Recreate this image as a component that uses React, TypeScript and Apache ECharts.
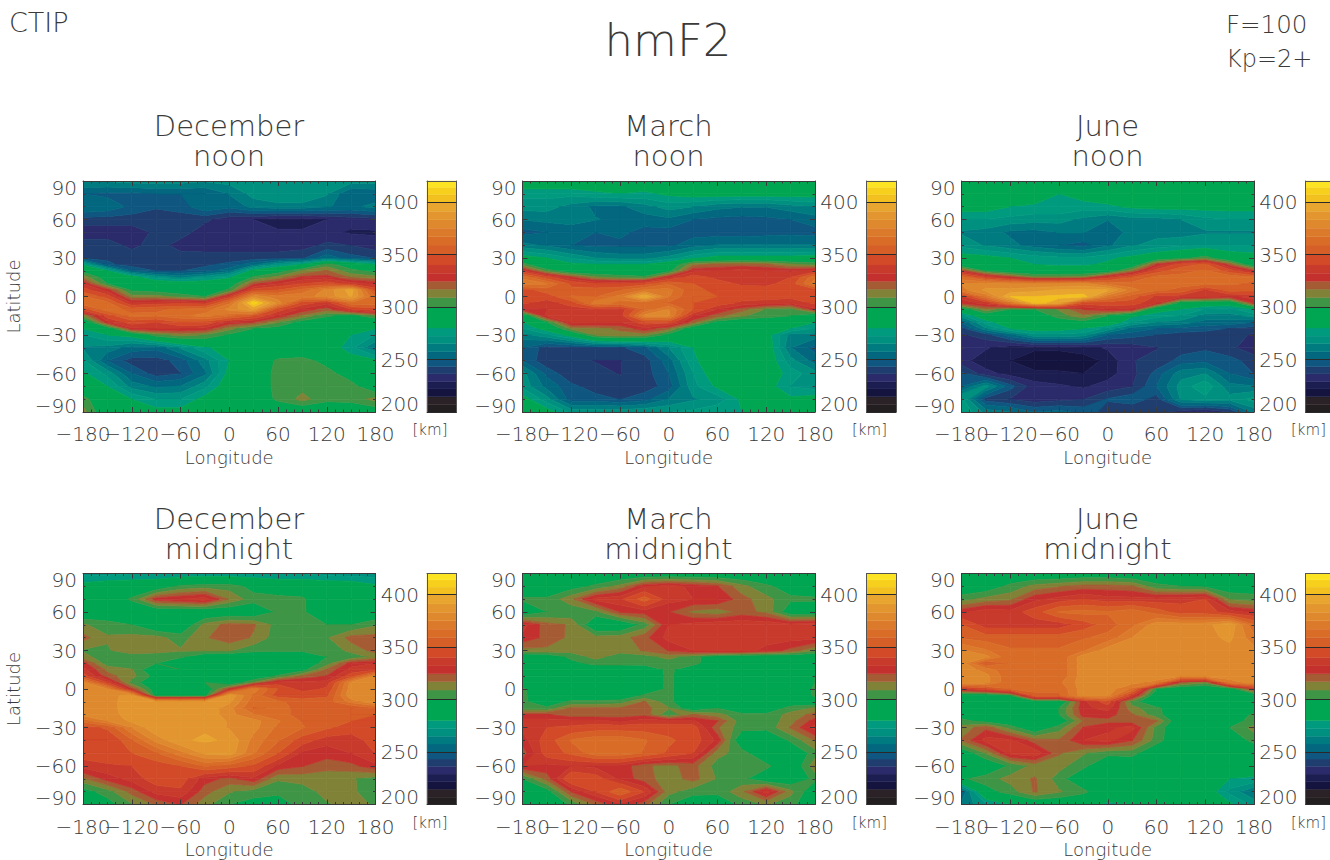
import React, { useEffect, useRef } from "react";
import * as echarts from "echarts";

const longitudes = [-180, -150, -120, -90, -60, -30, 0, 30, 60, 90, 120, 150, 180];
const latitudes = [90, 80, 70, 60, 50, 40, 30, 25, 20, 15, 10, 5, 0, -5, -10, -15, -20, -25, -30, -40, -50, -60, -70, -80, -90];
const colorbarTicks = [200, 250, 300, 350, 400];

const bandLevels = [200, 207, 214.6, 222, 229, 236.3, 243.3, 250, 257.6, 265, 272.3, 280, 300, 309, 317, 324.5, 332, 340, 350, 359, 367, 375, 383, 391, 400, 407, 414, 420];
const bandColors = ["#231f20", "#2a2226", "#14143f", "#1c1d50", "#2b2b6b", "#1f3d6e", "#0f5680", "#02677f", "#007b80", "#009080", "#009b7f", "#00a651", "#3f9546", "#7f8237", "#a55b34", "#c3302e", "#c83a2c", "#d24a28", "#d55f27", "#d96d28", "#dc7a2b", "#df892e", "#e3962f", "#e8a52f", "#f2c01f", "#f6d01c", "#fde423"];

const decemberNoon = [
  [266, 266, 268, 268, 268, 266, 268, 270, 270, 270, 268, 268, 268],
  [250, 248, 248, 250, 250, 250, 258, 268, 272, 272, 266, 250, 252],
  [258, 255, 248, 244, 246, 256, 252, 260, 262, 262, 258, 256, 260],
  [240, 240, 240, 240, 240, 238, 232, 229, 226, 226, 229, 232, 234],
  [232, 232, 232, 238, 240, 232, 232, 232, 230, 230, 231, 228, 228],
  [240, 240, 234, 240, 233, 232, 232, 232, 232, 233, 238, 236, 232],
  [242, 242, 241, 240, 240, 240, 240, 240, 240, 242, 255, 246, 243],
  [278, 245, 240, 240, 240, 242, 245, 255, 270, 280, 304, 292, 278],
  [296, 280, 250, 243, 243, 246, 255, 285, 294, 310, 318, 303, 296],
  [315, 292, 285, 270, 262, 270, 278, 302, 312, 326, 328, 316, 312],
  [332, 300, 292, 290, 288, 288, 292, 322, 332, 340, 345, 336, 330],
  [345, 328, 298, 295, 292, 290, 302, 345, 350, 362, 378, 395, 345],
  [360, 345, 312, 312, 305, 300, 335, 380, 370, 372, 378, 392, 360],
  [365, 362, 332, 335, 338, 335, 365, 412, 380, 345, 335, 365, 365],
  [345, 365, 355, 358, 360, 362, 378, 392, 345, 330, 320, 340, 345],
  [310, 345, 362, 360, 365, 370, 362, 350, 330, 315, 302, 295, 310],
  [285, 330, 345, 340, 350, 348, 330, 325, 310, 295, 290, 288, 284],
  [280, 290, 330, 332, 332, 330, 312, 300, 295, 288, 288, 285, 280],
  [272, 280, 285, 305, 312, 308, 298, 290, 288, 288, 288, 280, 272],
  [264, 262, 254, 252, 266, 278, 286, 288, 288, 288, 288, 274, 258],
  [274, 250, 240, 240, 246, 262, 280, 290, 302, 304, 296, 286, 282],
  [282, 270, 250, 240, 243, 256, 284, 290, 304, 305, 304, 294, 288],
  [288, 280, 262, 256, 258, 270, 288, 290, 304, 306, 305, 304, 290],
  [304, 288, 280, 272, 272, 284, 290, 292, 302, 312, 303, 304, 312],
  [313, 288, 286, 284, 284, 288, 288, 288, 290, 288, 288, 288, 292],
];

const marchNoon = [
  [288, 288, 288, 288, 288, 288, 288, 288, 288, 288, 288, 288, 288],
  [275, 275, 275, 278, 280, 278, 282, 285, 285, 285, 285, 285, 285],
  [268, 268, 262, 256, 256, 262, 268, 265, 260, 258, 258, 262, 265],
  [258, 260, 260, 258, 256, 254, 256, 250, 248, 247, 248, 250, 254],
  [247, 250, 254, 250, 252, 247, 247, 247, 246, 246, 247, 248, 247],
  [260, 256, 250, 248, 248, 248, 248, 254, 258, 258, 258, 258, 258],
  [285, 280, 272, 265, 262, 262, 268, 278, 284, 284, 284, 284, 285],
  [305, 285, 282, 280, 280, 280, 288, 315, 318, 320, 318, 310, 305],
  [335, 305, 290, 288, 288, 288, 296, 330, 332, 335, 332, 330, 335],
  [365, 345, 325, 310, 305, 302, 330, 345, 337, 338, 335, 340, 365],
  [372, 368, 348, 340, 340, 345, 358, 350, 345, 338, 337, 345, 372],
  [345, 355, 352, 355, 358, 368, 370, 352, 348, 345, 345, 345, 345],
  [345, 345, 360, 358, 370, 400, 368, 350, 350, 345, 345, 343, 345],
  [342, 335, 345, 372, 365, 362, 358, 350, 345, 338, 335, 333, 342],
  [330, 332, 335, 338, 335, 360, 375, 350, 332, 320, 308, 305, 330],
  [285, 335, 335, 335, 335, 378, 378, 332, 320, 310, 305, 300, 285],
  [280, 300, 335, 333, 332, 345, 345, 320, 295, 288, 288, 288, 280],
  [272, 285, 312, 315, 318, 330, 318, 290, 288, 288, 288, 280, 272],
  [262, 270, 285, 310, 315, 312, 296, 288, 288, 288, 285, 262, 262],
  [250, 240, 240, 242, 242, 248, 265, 280, 288, 288, 288, 258, 247],
  [250, 238, 238, 236, 236, 240, 254, 278, 288, 288, 288, 268, 254],
  [268, 248, 238, 238, 236, 240, 250, 272, 288, 288, 288, 276, 268],
  [270, 255, 245, 240, 238, 240, 246, 270, 282, 288, 285, 272, 268],
  [285, 268, 246, 246, 243, 247, 258, 264, 268, 282, 285, 282, 285],
  [288, 285, 270, 270, 270, 272, 272, 274, 278, 280, 280, 284, 288],
];

const juneNoon = [
  [288, 288, 288, 288, 288, 288, 288, 288, 288, 288, 288, 288, 288],
  [288, 288, 288, 288, 280, 285, 288, 288, 288, 288, 288, 288, 288],
  [285, 285, 280, 278, 278, 276, 278, 282, 284, 284, 284, 284, 284],
  [272, 272, 270, 268, 268, 263, 258, 262, 262, 265, 270, 272, 272],
  [264, 262, 256, 255, 258, 258, 250, 262, 262, 262, 264, 264, 264],
  [270, 264, 260, 254, 250, 247, 256, 264, 268, 270, 272, 272, 272],
  [285, 284, 280, 276, 274, 274, 278, 283, 290, 296, 305, 288, 285],
  [288, 287, 286, 280, 278, 278, 282, 288, 325, 345, 352, 320, 288],
  [325, 298, 290, 288, 288, 288, 290, 315, 345, 356, 360, 345, 325],
  [362, 340, 325, 310, 310, 312, 335, 350, 362, 362, 362, 365, 360],
  [375, 378, 375, 375, 375, 378, 365, 362, 360, 360, 362, 360, 358],
  [372, 385, 385, 388, 392, 392, 392, 370, 360, 358, 338, 355, 352],
  [335, 370, 400, 400, 402, 405, 370, 355, 338, 335, 335, 330, 335],
  [328, 335, 370, 405, 395, 345, 345, 345, 332, 295, 288, 288, 328],
  [290, 315, 300, 300, 310, 325, 332, 330, 285, 280, 272, 270, 280],
  [270, 290, 295, 290, 305, 315, 300, 282, 275, 272, 262, 262, 268],
  [250, 276, 288, 290, 292, 296, 290, 272, 265, 262, 255, 255, 250],
  [240, 264, 280, 285, 284, 280, 270, 255, 250, 248, 245, 243, 240],
  [235, 240, 254, 270, 270, 268, 250, 246, 243, 240, 241, 240, 235],
  [232, 230, 224, 224, 224, 226, 230, 232, 236, 240, 242, 238, 232],
  [232, 224, 222, 216, 215, 218, 224, 236, 238, 246, 248, 246, 240],
  [245, 232, 226, 224, 224, 222, 226, 234, 246, 262, 265, 250, 243],
  [250, 268, 246, 232, 230, 228, 232, 236, 250, 268, 278, 260, 258],
  [275, 240, 236, 232, 234, 236, 244, 248, 240, 266, 270, 268, 275],
  [280, 262, 258, 250, 252, 248, 240, 236, 240, 232, 228, 236, 260],
];

const decemberMidnight = [
  [270, 270, 272, 272, 272, 272, 272, 272, 272, 272, 270, 268, 268],
  [284, 288, 288, 290, 302, 305, 305, 296, 290, 290, 288, 288, 282],
  [288, 288, 302, 328, 332, 336, 316, 304, 304, 302, 288, 288, 288],
  [288, 288, 288, 288, 288, 288, 290, 290, 302, 302, 288, 288, 288],
  [310, 305, 300, 288, 288, 312, 320, 318, 305, 302, 300, 300, 308],
  [320, 310, 312, 312, 305, 316, 322, 316, 304, 302, 308, 320, 320],
  [308, 308, 314, 312, 310, 310, 310, 303, 302, 302, 302, 312, 320],
  [312, 304, 304, 304, 302, 290, 288, 288, 288, 288, 300, 303, 312],
  [328, 304, 302, 300, 288, 288, 288, 288, 288, 290, 305, 328, 332],
  [335, 315, 310, 288, 300, 288, 288, 288, 288, 296, 318, 335, 338],
  [345, 320, 312, 296, 288, 288, 288, 288, 302, 318, 325, 345, 378],
  [378, 340, 305, 290, 288, 300, 288, 310, 335, 335, 335, 378, 380],
  [378, 375, 325, 292, 288, 290, 325, 372, 350, 335, 342, 380, 380],
  [378, 378, 388, 290, 288, 292, 390, 365, 345, 348, 348, 382, 382],
  [378, 378, 390, 390, 390, 390, 385, 362, 362, 352, 355, 370, 382],
  [378, 378, 390, 390, 390, 390, 378, 358, 360, 358, 352, 350, 358],
  [378, 378, 388, 390, 390, 390, 378, 368, 360, 358, 352, 350, 350],
  [362, 375, 385, 390, 390, 390, 382, 378, 368, 358, 352, 350, 348],
  [345, 352, 375, 390, 390, 390, 382, 378, 365, 360, 352, 345, 348],
  [340, 340, 358, 378, 390, 392, 390, 372, 360, 345, 335, 335, 345],
  [345, 348, 350, 358, 372, 385, 388, 368, 350, 330, 328, 332, 340],
  [335, 338, 340, 345, 350, 360, 355, 348, 330, 325, 320, 322, 330],
  [315, 328, 335, 345, 345, 328, 322, 330, 310, 312, 312, 310, 305],
  [295, 305, 320, 335, 338, 320, 310, 305, 303, 305, 312, 312, 300],
  [290, 295, 308, 318, 325, 312, 300, 295, 292, 305, 308, 312, 308],
];

const marchMidnight = [
  [288, 288, 288, 288, 288, 288, 288, 288, 288, 288, 288, 288, 288],
  [288, 288, 295, 302, 312, 330, 335, 330, 325, 312, 302, 295, 290],
  [302, 302, 315, 335, 338, 355, 335, 332, 332, 320, 312, 302, 302],
  [288, 300, 302, 306, 325, 328, 325, 315, 312, 320, 315, 292, 290],
  [335, 320, 316, 288, 288, 304, 332, 335, 338, 338, 338, 335, 338],
  [330, 322, 315, 312, 313, 322, 335, 335, 335, 337, 335, 335, 335],
  [314, 315, 312, 312, 312, 318, 325, 332, 336, 335, 330, 322, 310],
  [288, 290, 303, 312, 304, 305, 312, 304, 292, 288, 288, 288, 288],
  [288, 288, 296, 304, 304, 304, 304, 304, 290, 288, 288, 288, 288],
  [288, 288, 288, 288, 288, 290, 303, 290, 288, 288, 288, 288, 290],
  [288, 288, 288, 288, 288, 288, 303, 288, 288, 288, 288, 288, 300],
  [292, 288, 288, 288, 288, 288, 303, 288, 288, 288, 288, 288, 300],
  [302, 288, 288, 288, 288, 288, 303, 288, 288, 288, 288, 288, 302],
  [303, 288, 288, 288, 288, 302, 303, 288, 288, 288, 288, 288, 302],
  [303, 290, 303, 303, 305, 318, 303, 288, 288, 288, 288, 290, 290],
  [303, 303, 318, 318, 318, 320, 310, 290, 300, 288, 288, 305, 310],
  [326, 326, 318, 318, 320, 322, 302, 318, 312, 303, 303, 312, 320],
  [335, 335, 335, 335, 330, 336, 335, 333, 325, 304, 303, 314, 328],
  [335, 340, 342, 345, 345, 345, 345, 345, 318, 304, 303, 318, 335],
  [328, 345, 360, 365, 365, 360, 352, 345, 330, 288, 288, 302, 318],
  [320, 345, 352, 365, 365, 358, 348, 340, 312, 305, 288, 288, 305],
  [332, 330, 332, 330, 330, 318, 315, 320, 305, 303, 303, 288, 315],
  [300, 320, 350, 345, 330, 320, 313, 320, 308, 303, 290, 290, 303],
  [288, 295, 325, 340, 358, 340, 312, 304, 303, 315, 335, 312, 290],
  [288, 288, 302, 318, 330, 320, 300, 290, 290, 303, 310, 303, 290],
];

const juneMidnight = [
  [288, 288, 288, 288, 288, 290, 290, 288, 288, 288, 288, 288, 288],
  [290, 292, 303, 312, 316, 320, 320, 318, 303, 300, 298, 292, 292],
  [305, 312, 315, 330, 335, 340, 335, 335, 335, 337, 340, 308, 305],
  [330, 337, 335, 345, 360, 362, 360, 365, 355, 345, 345, 335, 330],
  [350, 335, 335, 335, 335, 345, 355, 365, 380, 380, 380, 390, 360],
  [358, 355, 355, 355, 355, 358, 362, 375, 380, 380, 380, 385, 370],
  [376, 368, 360, 360, 360, 366, 380, 380, 380, 380, 380, 380, 378],
  [380, 378, 360, 360, 360, 380, 380, 380, 380, 380, 380, 380, 380],
  [380, 350, 360, 360, 360, 380, 380, 380, 380, 380, 380, 380, 380],
  [380, 372, 360, 360, 360, 380, 380, 380, 380, 380, 380, 380, 380],
  [380, 378, 360, 360, 360, 380, 380, 380, 380, 375, 378, 378, 380],
  [380, 378, 360, 360, 365, 380, 380, 378, 372, 320, 310, 372, 378],
  [335, 345, 360, 360, 360, 380, 380, 365, 300, 288, 288, 290, 330],
  [288, 288, 300, 358, 358, 380, 378, 338, 288, 288, 288, 288, 288],
  [288, 288, 288, 288, 288, 330, 345, 305, 288, 288, 288, 288, 288],
  [288, 288, 288, 288, 300, 330, 335, 312, 303, 288, 288, 288, 288],
  [295, 288, 288, 288, 300, 328, 328, 318, 304, 288, 288, 288, 303],
  [303, 296, 290, 288, 290, 318, 322, 320, 318, 288, 288, 296, 303],
  [312, 322, 305, 288, 305, 325, 330, 335, 306, 288, 288, 300, 312],
  [318, 335, 334, 320, 318, 332, 335, 325, 305, 288, 288, 288, 305],
  [290, 310, 335, 338, 318, 310, 303, 304, 288, 288, 288, 280, 285],
  [288, 288, 302, 312, 312, 303, 288, 288, 288, 288, 288, 288, 288],
  [298, 305, 312, 318, 305, 288, 282, 280, 288, 288, 288, 280, 278],
  [250, 295, 305, 318, 310, 303, 288, 288, 288, 288, 288, 270, 258],
  [260, 270, 280, 288, 288, 284, 278, 280, 288, 288, 288, 282, 270],
];

const panels = [
  { month: "December", time: "noon", values: decemberNoon, col: 0, row: 0 },
  { month: "March", time: "noon", values: marchNoon, col: 1, row: 0 },
  { month: "June", time: "noon", values: juneNoon, col: 2, row: 0 },
  { month: "December", time: "midnight", values: decemberMidnight, col: 0, row: 1 },
  { month: "March", time: "midnight", values: marchMidnight, col: 1, row: 1 },
  { month: "June", time: "midnight", values: juneMidnight, col: 2, row: 1 },
];

const colLeft = [83, 522.5, 961.5];
const rowTop = [181, 573.5];
const PLOT_W = 292.5;
const PLOT_H = 231;
const BAR_OFFSET = 344;
const BAR_W = 29.5;
const INK = "#3a3a3a";
const FONT = "'DejaVu Sans Light', 'DejaVu Sans'";
const WEIGHT = 200;

const signed = (v: number) => (v < 0 ? "\u2212" + Math.abs(v) : String(v));

type V = [number, number, number];
function clip(poly: V[], level: number, keepAbove: boolean): V[] {
  const out: V[] = [];
  const inside = (p: V) => (keepAbove ? p[2] >= level : p[2] <= level);
  for (let k = 0; k < poly.length; k++) {
    const a = poly[k];
    const b = poly[(k + 1) % poly.length];
    const ia = inside(a);
    const ib = inside(b);
    if (ia) out.push(a);
    if (ia !== ib) {
      const t = (level - a[2]) / (b[2] - a[2]);
      out.push([a[0] + (b[0] - a[0]) * t, a[1] + (b[1] - a[1]) * t, level]);
    }
  }
  return out;
}

function contourRenderer(values: number[][]) {
  return (params: any, api: any) => {
    const i = api.value(2);
    const j = api.value(3);
    const quad: V[] = [
      [longitudes[j], latitudes[i], values[i][j]],
      [longitudes[j + 1], latitudes[i], values[i][j + 1]],
      [longitudes[j + 1], latitudes[i + 1], values[i + 1][j + 1]],
      [longitudes[j], latitudes[i + 1], values[i + 1][j]],
    ];
    const children: any[] = [];
    for (let b = 0; b < bandColors.length; b++) {
      let poly = clip(quad, bandLevels[b], true);
      if (poly.length) poly = clip(poly, bandLevels[b + 1], false);
      if (poly.length < 3) continue;
      children.push({
        type: "polygon",
        shape: { points: poly.map((p) => api.coord([p[0], p[1]])) },
        style: { fill: bandColors[b], stroke: bandColors[b], lineWidth: 0.7 },
        silent: true,
      });
    }
    return { type: "group", children };
  };
}

function barRenderer(params: any, api: any) {
  const b = api.value(0);
  const tl = api.coord([0, bandLevels[b + 1]]);
  const br = api.coord([1, bandLevels[b]]);
  return {
    type: "rect",
    shape: { x: tl[0], y: tl[1], width: br[0] - tl[0], height: br[1] - tl[1] },
    style: { fill: bandColors[b], stroke: bandColors[b], lineWidth: 0.4 },
  };
}

function buildOption() {
  const grid: any[] = [];
  const xAxis: any[] = [];
  const yAxis: any[] = [];
  const series: any[] = [];
  const graphic: any[] = [];
  const addText = (text: string, x: number, y: number, size: number, align = "center", lineHeight?: number) =>
    graphic.push({
      type: "text",
      x,
      y,
      z: 10,
      style: { text, fill: INK, font: `${WEIGHT} ${size}px ${FONT}`, align, verticalAlign: "middle", lineHeight },
    });

  addText("CTIP", 9, 22, 27, "left");
  addText("hmF2", 668, 40, 45);
  addText("F=100", 1226, 24, 24.5, "left");
  addText("Kp=2+", 1226, 59, 24, "left");

  panels.forEach((p) => {
    const left = colLeft[p.col];
    const top = rowTop[p.row];
    const g = grid.length;
    addText(`${p.month}\n${p.time}`, left + 146, top - 40, 29, "center", 30);
    addText("[km]", left + 347, top + 249, 15);
    addText(signed(longitudes[0]), left, top + PLOT_H + 22, 20);

    grid.push({ left, top, width: PLOT_W, height: PLOT_H });
    const xBase = {
      type: "value", gridIndex: g, min: -180, max: 180, interval: 60, z: 5,
      axisLine: { show: true, onZero: false, lineStyle: { color: INK, width: 1 } },
      axisTick: { show: true, inside: true, length: 5, lineStyle: { color: INK, width: 1 } },
      minorTick: { show: true, splitNumber: 6, length: 2.5, lineStyle: { color: INK, width: 1 } },
      splitLine: { show: false },
    };
    const yBase = {
      type: "value", gridIndex: g, min: -90, max: 90, interval: 30, z: 5,
      axisLine: { show: true, onZero: false, lineStyle: { color: INK, width: 1 } },
      axisTick: { show: true, inside: true, length: 5, lineStyle: { color: INK, width: 1 } },
      minorTick: { show: true, splitNumber: 3, length: 2.5, lineStyle: { color: INK, width: 1 } },
      splitLine: { show: false },
    };
    const xi = xAxis.length;
    xAxis.push({
      ...xBase,
      position: "bottom",
      name: "Longitude",
      nameLocation: "middle",
      nameGap: 36,
      nameTextStyle: { color: INK, fontFamily: FONT, fontWeight: WEIGHT, fontSize: 18 },
      axisLabel: {
        color: INK, fontFamily: FONT, fontWeight: WEIGHT, fontSize: 20, margin: 12,
        formatter: (v: number) => (v === longitudes[0] ? "" : signed(v)),
        hideOverlap: false, showMaxLabel: true,
      },
    });
    xAxis.push({ ...xBase, position: "top", axisLabel: { show: false } });
    const yi = yAxis.length;
    yAxis.push({
      ...yBase,
      position: "left",
      name: p.col === 0 ? "Latitude" : "",
      nameLocation: "middle",
      nameGap: 61,
      nameTextStyle: { color: INK, fontFamily: FONT, fontWeight: WEIGHT, fontSize: 18 },
      axisLabel: {
        color: INK, fontFamily: FONT, fontWeight: WEIGHT, fontSize: 20, margin: 6, lineHeight: 13,
        formatter: signed, verticalAlignMinLabel: "bottom", verticalAlignMaxLabel: "top",
      },
    });
    yAxis.push({ ...yBase, position: "right", axisLabel: { show: false } });

    const cells: number[][] = [];
    for (let i = 0; i < latitudes.length - 1; i++) {
      for (let j = 0; j < longitudes.length - 1; j++) {
        cells.push([longitudes[j], latitudes[i], i, j]);
      }
    }
    series.push({
      type: "custom",
      name: `${p.month} ${p.time}`,
      xAxisIndex: xi,
      yAxisIndex: yi,
      coordinateSystem: "cartesian2d",
      clip: true,
      silent: true,
      encode: { x: 0, y: 1 },
      data: cells,
      renderItem: contourRenderer(p.values),
    });

    const gb = grid.length;
    grid.push({ left: left + BAR_OFFSET, top, width: BAR_W, height: PLOT_H });
    const xb = xAxis.length;
    const frame = { show: true, onZero: false, lineStyle: { color: "#555", width: 1 } };
    xAxis.push({ type: "value", gridIndex: gb, min: 0, max: 1, position: "bottom", z: 5, axisLine: frame, axisTick: { show: false }, axisLabel: { show: false }, splitLine: { show: false } });
    xAxis.push({ type: "value", gridIndex: gb, min: 0, max: 1, position: "top", z: 5, axisLine: frame, axisTick: { show: false }, axisLabel: { show: false }, splitLine: { show: false } });
    const yb = yAxis.length;
    yAxis.push({
      type: "value", gridIndex: gb, min: 200, max: 420, interval: 50, position: "left", z: 5,
      axisLine: frame,
      axisTick: { show: true, inside: true, length: BAR_W, lineStyle: { color: "#2a2a2a", width: 1 } },
      splitLine: { show: false },
      axisLabel: {
        color: INK, fontFamily: FONT, fontWeight: WEIGHT, fontSize: 20, margin: 8, lineHeight: 16,
        showMaxLabel: false, verticalAlignMinLabel: "bottom",
        formatter: (v: number) => (colorbarTicks.includes(v) ? String(v) : ""),
      },
    });
    yAxis.push({ type: "value", gridIndex: gb, min: 200, max: 420, interval: 50, position: "right", z: 5, axisLine: frame, axisTick: { show: false }, axisLabel: { show: false }, splitLine: { show: false } });
    series.push({
      type: "custom",
      name: `${p.month} ${p.time} scale`,
      xAxisIndex: xb,
      yAxisIndex: yb,
      coordinateSystem: "cartesian2d",
      silent: true,
      encode: { y: 0 },
      data: bandColors.map((_, b) => [b]),
      renderItem: barRenderer,
    });
  });

  return { animation: false, backgroundColor: "#ffffff", grid, xAxis, yAxis, series, graphic };
}

export default function App() {
  const ref = useRef<HTMLDivElement>(null);
  useEffect(() => {
    document.body.style.margin = "0";
    document.body.style.overflow = "hidden";
    const chart = echarts.init(ref.current!, undefined, { renderer: "svg" });
    chart.setOption(buildOption() as any);
    return () => chart.dispose();
  }, []);
  return <div ref={ref} style={{ width: 1330, height: 860 }} />;
}
